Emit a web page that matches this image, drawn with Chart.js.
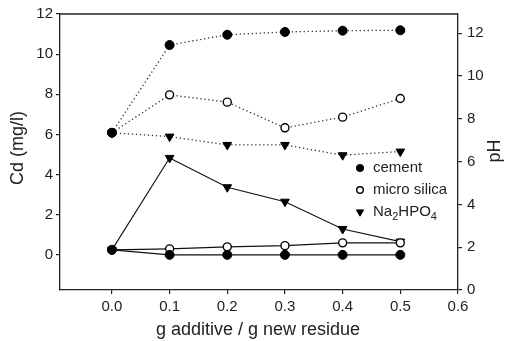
<!DOCTYPE html>
<html><head><meta charset="utf-8">
<script src="https://cdn.jsdelivr.net/npm/chart.js@4/dist/chart.umd.min.js"></script>
<style>html,body{margin:0;padding:0;background:#fff}</style></head>
<body><canvas id="c" width="511" height="341"></canvas>
<script>
const xValues = [0, 0.1, 0.2, 0.3, 0.4, 0.5];
const cdCement = [0.25, 0, 0, 0, 0, 0];
const cdSilica = [0.25, 0.3, 0.4, 0.46, 0.6, 0.6];
const cdNa2HPO4 = [0.25, 4.83, 3.37, 2.65, 1.29, 0.66];
const phCement = [7.35, 11.45, 11.93, 12.06, 12.12, 12.14];
const phSilica = [7.35, 9.12, 8.78, 7.58, 8.08, 8.95];
const phNa2HPO4 = [7.35, 7.17, 6.78, 6.78, 6.3, 6.47];
const xTicks = [0, 0.1, 0.2, 0.3, 0.4, 0.5, 0.6];
const cdTicks = [0, 2, 4, 6, 8, 10, 12];
const phTicks = [0, 2, 4, 6, 8, 10, 12];
const legendLabels = ['cement', 'micro silica', 'Na2HPO4'];

const FONT = '"Liberation Sans", Arial, Helvetica, sans-serif';
const pts = arr => arr.map((v, i) => ({x: xValues[i], y: v}));

const styles = {
  cement: {pointStyle: 'circle', pointRadius: 4.5, pointBackgroundColor: '#000', pointBorderColor: '#000', pointBorderWidth: 1, pointRotation: 0},
  silica: {pointStyle: 'circle', pointRadius: 4, pointBackgroundColor: '#fff', pointBorderColor: '#000', pointBorderWidth: 1.4, pointRotation: 0},
  na: {pointStyle: 'triangle', pointRadius: 5, pointBackgroundColor: '#000', pointBorderColor: '#000', pointBorderWidth: 1, pointRotation: 180}
};
function ds(data, axis, st, dotted) {
  return Object.assign({
    data: pts(data), yAxisID: axis, borderColor: dotted ? '#333' : '#111',
    borderWidth: dotted ? 1.3 : 1.1, borderDash: dotted ? [1.3, 2.7] : [],
    showLine: true, fill: false, tension: 0, clip: false
  }, st);
}

const framePlugin = {
  id: 'frame',
  afterDraw(chart) {
    const ctx = chart.ctx, a = chart.chartArea;
    ctx.save();
    ctx.strokeStyle = '#222'; ctx.lineWidth = 1.3;
    ctx.beginPath(); ctx.moveTo(a.left, a.top); ctx.lineTo(a.right, a.top); ctx.stroke();
    ctx.fillStyle = '#222';
    ctx.font = '18px ' + FONT;
    ctx.textAlign = 'center'; ctx.textBaseline = 'middle';
    ctx.fillText('g additive / g new residue', 258, 330);
    ctx.save(); ctx.translate(18, 148); ctx.rotate(-Math.PI / 2); ctx.fillText('Cd (mg/l)', 0, 0); ctx.restore();
    ctx.save(); ctx.translate(495, 151); ctx.rotate(-Math.PI / 2); ctx.fillText('pH', 0, 0); ctx.restore();
    // legend
    const keys = ['cement', 'silica', 'na'];
    const rows = [168, 190, 212];
    ctx.font = '15px ' + FONT;
    ctx.textAlign = 'left';
    keys.forEach((k, i) => {
      const s = styles[k];
      ctx.fillStyle = s.pointBackgroundColor; ctx.strokeStyle = s.pointBorderColor;
      ctx.lineWidth = s.pointBorderWidth;
      const r = k === 'na' ? 4.2 : (k === 'silica' ? 3.3 : 3.6);
      Chart.helpers.drawPoint(ctx, {pointStyle: s.pointStyle, radius: r, rotation: s.pointRotation, borderWidth: s.pointBorderWidth}, 360, rows[i]);
      ctx.fillStyle = '#222';
      if (k === 'na') {
        let x = 373;
        const parts = [['Na', 0, 15], ['2', 5, 11], ['HPO', 0, 15], ['4', 5, 11]];
        parts.forEach(p => {
          ctx.font = p[2] + 'px ' + FONT;
          ctx.fillText(p[0], x, rows[i] + p[1]);
          x += ctx.measureText(p[0]).width;
        });
        ctx.font = '15px ' + FONT;
      } else {
        ctx.fillText(legendLabels[i], 373, rows[i]);
      }
    });
    ctx.restore();
  }
};

const tickFont = {family: FONT, size: 15};
new Chart(document.getElementById('c'), {
  type: 'scatter',
  data: {datasets: [
    ds(cdCement, 'y', styles.cement, false),
    ds(cdSilica, 'y', styles.silica, false),
    ds(cdNa2HPO4, 'y', styles.na, false),
    ds(phCement, 'y1', styles.cement, true),
    ds(phSilica, 'y1', styles.silica, true),
    ds(phNa2HPO4, 'y1', styles.na, true)
  ]},
  options: {
    responsive: false, animation: false,
    layout: {padding: {top: 14, left: 0, right: 0, bottom: 0}},
    plugins: {legend: {display: false}, tooltip: {enabled: false}},
    scales: {
      x: {
        type: 'linear', min: -0.09, max: 0.6,
        afterBuildTicks: s => { s.ticks = xTicks.map(v => ({value: v})); },
        afterFit: s => { s.height = 51; },
        grid: {drawOnChartArea: false, drawTicks: true, tickLength: 4, color: '#222', lineWidth: 1.2},
        border: {display: true, color: '#222', width: 1.3},
        ticks: {font: tickFont, color: '#222', padding: 4, maxRotation: 0, callback: v => v.toFixed(1)}
      },
      y: {
        type: 'linear', position: 'left', min: -1.75, max: 12,
        afterBuildTicks: s => { s.ticks = cdTicks.map(v => ({value: v})); },
        afterFit: s => { s.width = 60; },
        grid: {drawOnChartArea: false, drawTicks: true, tickLength: 4, color: '#222', lineWidth: 1.2},
        border: {display: true, color: '#222', width: 1.3},
        ticks: {font: tickFont, color: '#222', padding: 3, callback: v => String(v)}
      },
      y1: {
        type: 'linear', position: 'right', min: 0, max: 12.9,
        afterBuildTicks: s => { s.ticks = phTicks.map(v => ({value: v})); },
        afterFit: s => { s.width = 53; },
        grid: {drawOnChartArea: false, drawTicks: true, tickLength: 4, color: '#222', lineWidth: 1.2},
        border: {display: true, color: '#222', width: 1.3},
        ticks: {font: tickFont, color: '#222', padding: 5, callback: v => String(v)}
      }
    }
  },
  plugins: [framePlugin]
});
</script>
</body></html>
